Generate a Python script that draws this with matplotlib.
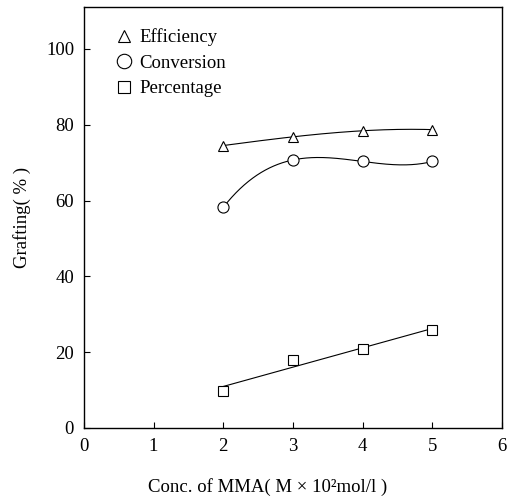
import numpy as np
import matplotlib
matplotlib.use("Agg")
import matplotlib.pyplot as plt

plt.rcParams['font.family'] = ['Liberation Serif', 'DejaVu Serif']

# grafting results vs MMA concentration
conc = [2, 3, 4, 5]
efficiency = [74.5, 76.8, 78.4, 78.7]
conversion = [58.2, 70.7, 70.3, 70.3]
percentage = [9.8, 17.9, 20.9, 25.8]

xticks = [0, 1, 2, 3, 4, 5, 6]
yticks = [0, 20, 40, 60, 80, 100]

fig = plt.figure(figsize=(5.14, 4.98), dpi=100)
ax = fig.add_axes([0.163, 0.1406, 0.814, 0.845])

xs = np.linspace(2, 5, 200)

# smooth curves through efficiency and conversion points
ce = np.polyfit(conc, efficiency, 3)
cc = np.polyfit(conc, conversion, 3)
# straight line for grafting percentage
cp = np.polyfit(conc, percentage, 1)

ax.plot(xs, np.polyval(ce, xs), color='black', lw=0.8)
ax.plot(xs, np.polyval(cc, xs), color='black', lw=0.8)
ax.plot(xs, np.polyval(cp, xs), color='black', lw=0.8)

ax.plot(conc, efficiency, ls='none', marker='^', ms=7, mfc='white',
        mec='black', mew=0.8, label='Efficiency')
ax.plot(conc, conversion, ls='none', marker='o', ms=8, mfc='white',
        mec='black', mew=0.8, label='Conversion')
ax.plot(conc, percentage, ls='none', marker='s', ms=7, mfc='white',
        mec='black', mew=0.8, label='Percentage')

ax.set_xlim(0, 6)
ax.set_ylim(0, 111)
ax.set_xticks(xticks)
ax.set_yticks(yticks)
ax.tick_params(direction='in', length=4, width=0.8, labelsize=13.5, pad=7)
for s in ax.spines.values():
    s.set_linewidth(1.0)

ax.set_xlabel('Conc. of MMA( M × 10²mol/l )', fontsize=13.5, labelpad=16)
ax.xaxis.set_label_coords(0.44, -0.118)
ax.set_ylabel('Grafting( % )', fontsize=13.5)
ax.yaxis.set_label_coords(-0.127, 0.5)

leg = ax.legend(loc='upper left', frameon=False, fontsize=13.5,
                handletextpad=0.3, handlelength=1.0, borderaxespad=0.5,
                labelspacing=0.45, markerscale=1.3,
                bbox_to_anchor=(0.034, 0.99))

fig.savefig('out.png', dpi=100)
